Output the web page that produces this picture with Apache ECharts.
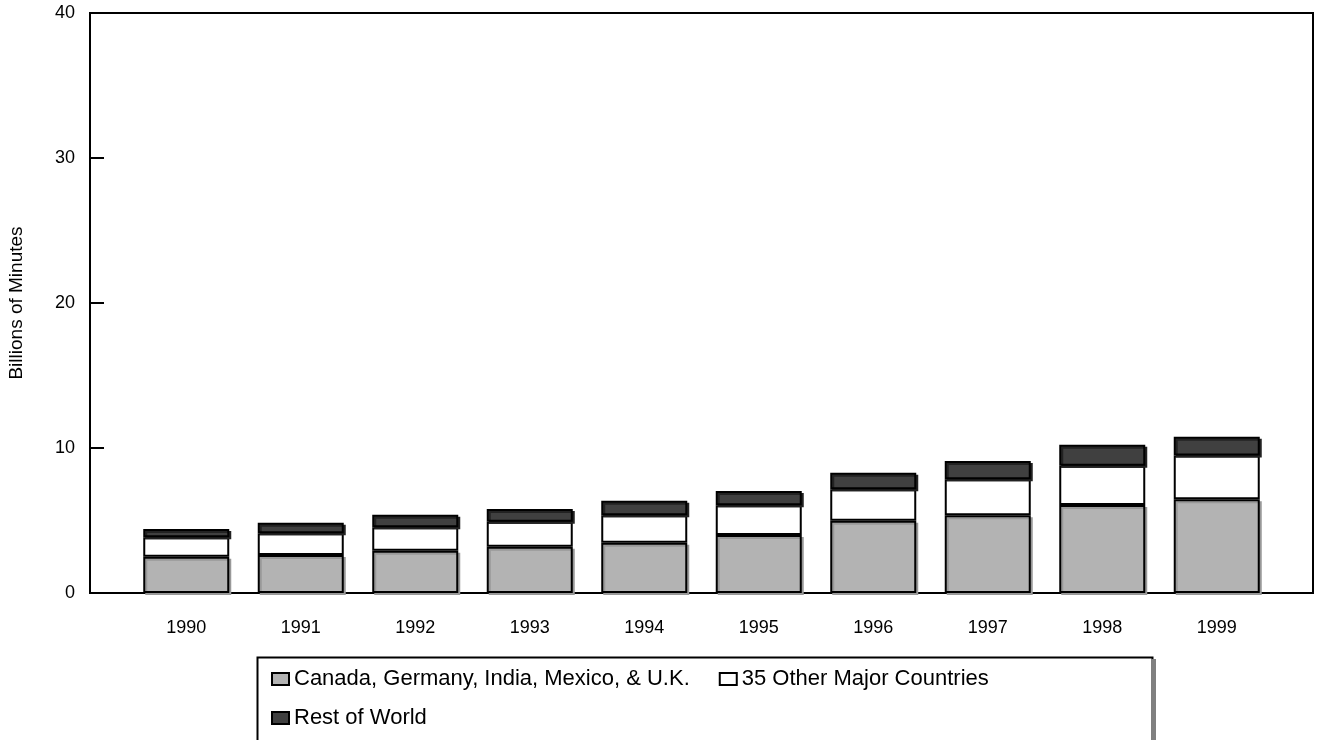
<!DOCTYPE html>
<html>
<head>
<meta charset="utf-8">
<script src="https://cdn.jsdelivr.net/npm/echarts@6/dist/echarts.min.js"></script>
<style>
  html, body { margin: 0; padding: 0; background: #fff; }
  #chart { width: 1317px; height: 740px; }
</style>
</head>
<body>
<div id="chart"></div>
<script>
const years = ["1990", "1991", "1992", "1993", "1994", "1995", "1996", "1997", "1998", "1999"]
const bigFive = [2.5, 2.62, 2.92, 3.19, 3.47, 4.0, 4.99, 5.36, 6.07, 6.46]
const otherMajor = [1.34, 1.5, 1.61, 1.73, 1.89, 2.05, 2.16, 2.48, 2.71, 3.03]
const restOfWorld = [0.57, 0.73, 0.87, 0.87, 1.01, 0.98, 1.15, 1.26, 1.45, 1.29]
const yTicks = [0, 10, 20, 30, 40]
const seriesNames = ["Canada, Germany, India, Mexico, & U.K.", "35 Other Major Countries", "Rest of World"]

const font = "Liberation Sans, Arial, sans-serif"
const chart = echarts.init(document.getElementById("chart"))

function seg(name, data, fill, shadow) {
  return {
    name: name,
    type: "bar",
    stack: "total",
    xAxisIndex: 1,
    yAxisIndex: 1,
    data: data,
    barWidth: 86,
    itemStyle: {
      color: fill,
      borderColor: "#000",
      borderWidth: 2,
      shadowColor: shadow,
      shadowOffsetX: shadow ? 2 : 0,
      shadowOffsetY: shadow ? 2 : 0,
      shadowBlur: 0,
    },
  }
}

const legendBase = {
  padding: 0,
  itemWidth: 17,
  itemHeight: 12,
  itemGap: 29,
  icon: "rect",
  textStyle: {color: "#000", fontSize: 22, fontFamily: font},
}

chart.setOption({
  animation: false,
  textStyle: {fontFamily: font},
  grid: [
    {left: 90, right: 4, top: 13, bottom: 147, outerBoundsMode: "none", containLabel: false,
      show: true, borderColor: "#000", borderWidth: 2, backgroundColor: "transparent"},
    {left: 129, right: 43, top: 13, bottom: 147, outerBoundsMode: "none", containLabel: false},
  ],
  xAxis: [
    {gridIndex: 0, type: "category", data: years, show: false},
    {
      gridIndex: 1,
      type: "category",
      data: years,
      axisLine: {show: false},
      axisTick: {show: false},
      axisLabel: {color: "#000", fontSize: 18, margin: 26, fontFamily: font},
    },
  ],
  yAxis: [
    {
      gridIndex: 0,
      type: "value",
      min: yTicks[0],
      max: yTicks[yTicks.length - 1],
      interval: 10,
      name: "Billions of Minutes",
      nameLocation: "middle",
      nameGap: 64,
      nameTextStyle: {color: "#000", fontSize: 19, fontFamily: font},
      axisLine: {show: true, lineStyle: {color: "#000", width: 2}},
      axisTick: {show: true, inside: true, length: 14, lineStyle: {color: "#000", width: 2}},
      axisLabel: {color: "#000", fontSize: 18, margin: 15, fontFamily: font},
      splitLine: {show: false},
    },
    {gridIndex: 1, type: "value", min: 0, max: 40, show: false, splitLine: {show: false}},
  ],
  legend: [
    Object.assign({left: 271, top: 668, data: seriesNames.slice(0, 2)}, legendBase),
    Object.assign({left: 271, top: 707, data: seriesNames.slice(2)}, legendBase),
  ],
  graphic: [
    {type: "rect", left: 255, top: 655, shape: {width: 895, height: 100}, style: {fill: "none", stroke: "#000", lineWidth: 2}},
    {type: "rect", left: 1152, top: 659, shape: {width: 4, height: 90}, style: {fill: "#808080"}},
  ],
  series: [
    seg(seriesNames[0], bigFive, "#b3b3b3", "#999"),
    seg(seriesNames[1], otherMajor, "#ffffff", null),
    seg(seriesNames[2], restOfWorld, "#404040", "#222"),
  ],
})
</script>
</body>
</html>
